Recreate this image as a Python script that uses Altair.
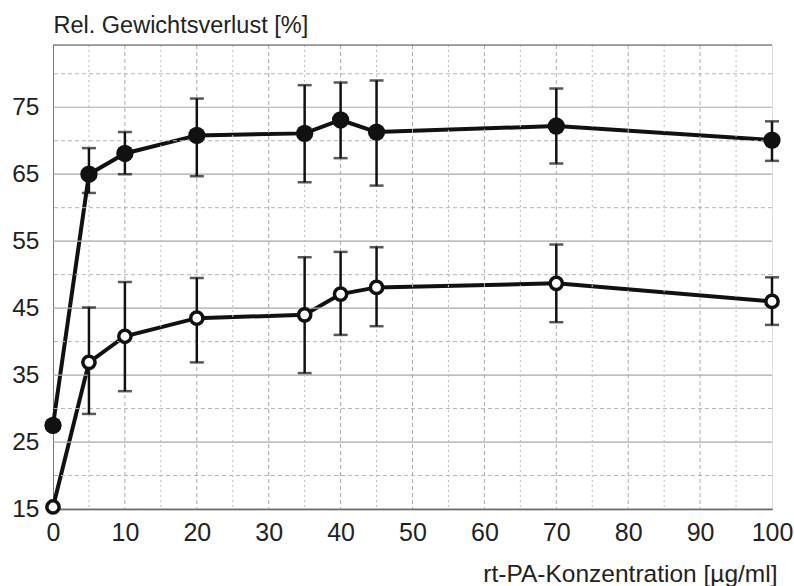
import altair as alt
import pandas as pd

conc = [0, 5, 10, 20, 35, 40, 45, 70, 100]
filled_mean = [27.5, 65.0, 68.1, 70.8, 71.1, 73.1, 71.3, 72.2, 70.1]
filled_lo = [None, 62.2, 65.0, 64.7, 63.8, 67.4, 63.3, 66.6, 67.0]
filled_hi = [None, 68.9, 71.3, 76.3, 78.3, 78.7, 79.0, 77.8, 72.9]
open_mean = [15.3, 36.9, 40.8, 43.5, 44.0, 47.1, 48.1, 48.7, 46.0]
open_lo = [None, 29.2, 32.6, 36.9, 35.3, 41.0, 42.3, 42.9, 42.5]
open_hi = [None, 45.1, 48.9, 49.5, 52.6, 53.4, 54.1, 54.5, 49.6]

x_ticks = [0, 10, 20, 30, 40, 50, 60, 70, 80, 90, 100]
y_ticks = [15, 25, 35, 45, 55, 65, 75]
y_half = [20, 30, 40, 50, 60, 70, 80]
x_minor = [5, 10, 15, 20, 25, 30, 35, 40, 45, 50, 55, 60, 65, 70, 75, 80, 85, 90, 95]
Y_MAX = 84.3

FONT = "Liberation Sans"
TXT = "#222222"

rows = []
for i, c in enumerate(conc):
    rows.append({"c": c, "s": "filled", "m": filled_mean[i], "lo": filled_lo[i], "hi": filled_hi[i]})
    rows.append({"c": c, "s": "open", "m": open_mean[i], "lo": open_lo[i], "hi": open_hi[i]})
df = pd.DataFrame(rows)
df_err = df.dropna()

xs = alt.Scale(domain=[0, 100], nice=False)
ys = alt.Scale(domain=[15, Y_MAX], nice=False)

X_AX = alt.Axis(
    values=x_ticks, grid=False, ticks=False, domain=True, domainColor="#333333", domainWidth=1.5,
    labelFont=FONT, labelFontSize=25, labelColor=TXT, labelPadding=11, labelFlush=False,
    title="rt-PA-Konzentration [µg/ml]", titleFont=FONT, titleFontSize=24.5, titleFontWeight="normal",
    titleColor=TXT, titleAnchor="end", titleAlign="right", titleX=724, titleY=72,
    titleBaseline="alphabetic")
Y_AX = alt.Axis(
    values=y_ticks, grid=False, ticks=False, domain=True, domainColor="#777777", domainWidth=1,
    labelFont=FONT, labelFontSize=24.5, labelColor=TXT, labelPadding=14,
    title="Rel. Gewichtsverlust [%]", titleFont=FONT, titleFontSize=23.5, titleFontWeight="normal",
    titleColor=TXT, titleAngle=0, titleAlign="left", titleX=0, titleY=-13,
    titleBaseline="alphabetic")


def X(f):
    return alt.X(f, scale=xs, axis=X_AX)


def Y(f):
    return alt.Y(f, scale=ys, axis=Y_AX)


lines = alt.Chart(df).mark_line(color="#111111", strokeWidth=4).encode(
    x=X("c:Q"), y=Y("m:Q"), detail="s:N")

hsolid = alt.Chart(pd.DataFrame({"v": y_ticks})).mark_rule(color="#a8a8a8", strokeWidth=1.2).encode(
    y=Y("v:Q"))
hdash = alt.Chart(pd.DataFrame({"v": y_half})).mark_rule(color="#b5b5b5", strokeWidth=1, strokeDash=[4, 3]).encode(
    y=Y("v:Q"))
vmaj = alt.Chart(pd.DataFrame({"v": [v for v in x_minor if v % 10 == 0]})).mark_rule(
    color="#aaaaaa", strokeWidth=1, strokeDash=[4, 3]).encode(x=X("v:Q"))
vmin = alt.Chart(pd.DataFrame({"v": [v for v in x_minor if v % 10 != 0]})).mark_rule(
    color="#bbbbbb", strokeWidth=1, strokeDash=[2, 3]).encode(x=X("v:Q"))
top = alt.Chart(pd.DataFrame({"v": [Y_MAX]})).mark_rule(color="#555555", strokeWidth=1.2).encode(
    y=Y("v:Q"))

err = alt.Chart(df_err).mark_rule(color="#111111", strokeWidth=2.5).encode(
    x=X("c:Q"), y=Y("lo:Q"), y2="hi:Q")
cap_lo = alt.Chart(df_err).mark_tick(color="#111111", orient="horizontal", size=14, thickness=2.5).encode(
    x=X("c:Q"), y=Y("lo:Q"))
cap_hi = alt.Chart(df_err).mark_tick(color="#111111", orient="horizontal", size=14, thickness=2.5).encode(
    x=X("c:Q"), y=Y("hi:Q"))

pts_f = alt.Chart(df[df.s == "filled"]).mark_point(
    shape="circle", filled=True, color="#111111", size=300, opacity=1).encode(
    x=X("c:Q"), y=Y("m:Q"))
pts_o = alt.Chart(df[df.s == "open"]).mark_point(
    shape="circle", filled=False, fill="white", fillOpacity=1, stroke="#111111", strokeWidth=3.5,
    size=150, opacity=1).encode(
    x=X("c:Q"), y=Y("m:Q"))

chart = alt.layer(lines, hsolid, hdash, vmin, vmaj, top, err, cap_lo, cap_hi, pts_f, pts_o).properties(
    width=719, height=464, autosize="none",
    padding={"left": 53, "top": 45, "right": 22, "bottom": 77},
).configure_view(stroke=None).configure(background="white").configure_axisX(
    labelFontSize=25, labelFont=FONT
).configure_axisY(labelFontSize=24.5, labelFont=FONT)

chart.save("out.html", embed_options={"renderer": "svg", "actions": False})
